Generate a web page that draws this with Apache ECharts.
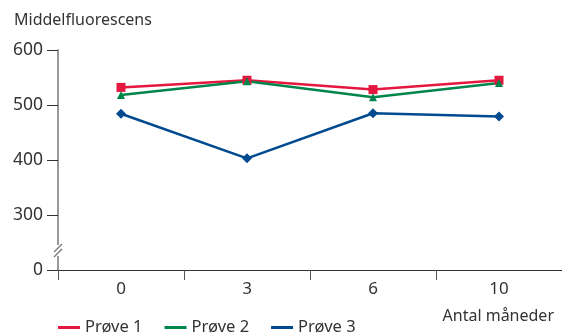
<!DOCTYPE html>
<html>
<head>
<meta charset="utf-8">
<script src="https://cdn.jsdelivr.net/npm/echarts@6/dist/echarts.min.js"></script>
<style>
  html, body { margin: 0; padding: 0; background: #fff; }
  #chart { width: 562px; height: 335px; }
</style>
</head>
<body>
<div id="chart"></div>
<script>
// Months since start
const months = ['0', '3', '6', '10'];
// Mean fluorescence per sample
const prove1 = [532, 545, 528, 545];
const prove2 = [518, 543, 514, 540];
const prove3 = [484, 403, 485, 479];
const seriesNames = ['Prøve 1', 'Prøve 2', 'Prøve 3'];
// Broken y axis: the lowest tick stands for 0
const yTickLabels = { 200: '0', 300: '300', 400: '400', 500: '500', 600: '600' };

const FONT = 'Noto Sans';
const TXT = '#333';
const colors = ['#e4173e', '#00854a', '#004a8f'];

const chart = echarts.init(document.getElementById('chart'), null, { renderer: 'canvas' });

const lineSeries = (name, data, color, symbol, size) => ({
  name, type: 'line', data,
  symbol, symbolSize: size,
  itemStyle: { color },
  lineStyle: { color, width: 2.5 },
  emphasis: { disabled: true },
  animation: false,
  z: 3
});

chart.setOption({
  animation: false,
  title: [
    { text: 'Middelfluorescens', left: 9, top: 7,
      textStyle: { fontFamily: FONT, fontSize: 16, fontWeight: 'normal', color: TXT } },
    { text: 'Antal måneder', right: 3, top: 303,
      textStyle: { fontFamily: FONT, fontSize: 16, fontWeight: 'normal', color: TXT } }
  ],
  grid: { left: 58, right: 0, top: 50, bottom: 65 },
  legend: {
    data: seriesNames.map(n => ({ name: n, icon: 'rect' })),
    left: 53, top: 314,
    itemWidth: 22, itemHeight: 3, itemGap: 22,
    textStyle: { fontFamily: FONT, fontSize: 16.5, color: TXT },
    selectedMode: false
  },
  xAxis: {
    type: 'category', data: months, boundaryGap: true,
    axisLine: { lineStyle: { color: '#333', width: 1 } },
    axisTick: { show: true, length: 10, inside: false, lineStyle: { color: '#555' } },
    axisLabel: { fontFamily: FONT, fontSize: 17, color: TXT, margin: 11 },
    splitLine: { show: false }
  },
  yAxis: {
    type: 'value', min: 200, max: 600, interval: 100,
    axisLine: { show: true, lineStyle: { color: '#777', width: 1.5 } },
    axisTick: { show: true, length: 11, lineStyle: { color: '#333' } },
    axisLabel: { fontFamily: FONT, fontSize: 17.5, color: TXT, margin: 15,
      formatter: v => yTickLabels[v] ?? '' },
    splitLine: { show: false }
  },
  graphic: [
    // axis break marks on the y axis
    { type: 'rect', shape: { x: 54, y: 245, width: 8, height: 11 }, style: { fill: '#fff' }, z: 10 },
    { type: 'line', shape: { x1: 54, y1: 252, x2: 62, y2: 244 }, style: { stroke: '#777', lineWidth: 1.2 }, z: 11 },
    { type: 'line', shape: { x1: 54, y1: 257, x2: 62, y2: 249 }, style: { stroke: '#777', lineWidth: 1.2 }, z: 11 }
  ],
  series: [
    lineSeries(seriesNames[0], prove1, colors[0], 'rect', 9),
    lineSeries(seriesNames[1], prove2, colors[1], 'triangle', 8),
    lineSeries(seriesNames[2], prove3, colors[2], 'diamond', 10)
  ]
});
</script>
</body>
</html>
